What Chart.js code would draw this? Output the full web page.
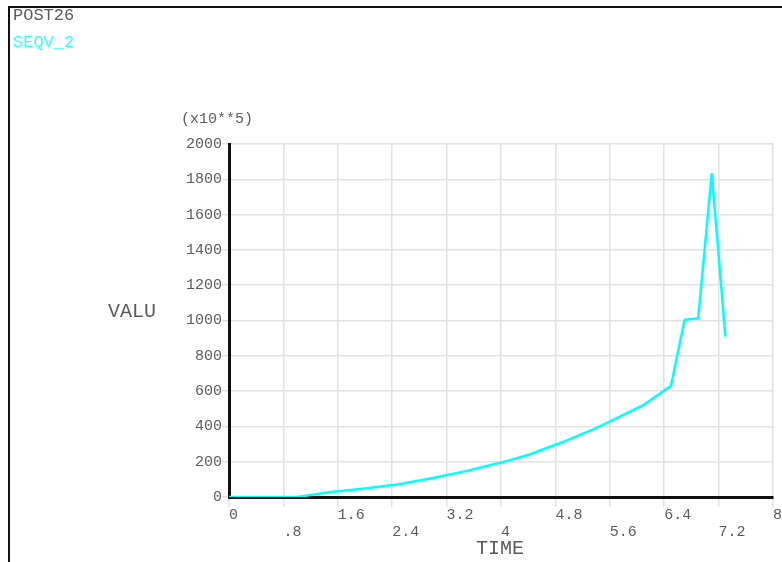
<!DOCTYPE html>
<html>
<head>
<meta charset="utf-8">
<script src="https://cdn.jsdelivr.net/npm/chart.js@4/dist/chart.umd.min.js"></script>
<style>
  html, body { margin: 0; padding: 0; background: #fff; }
  #wrap { width: 782px; height: 562px; position: relative; }
</style>
</head>
<body>
<div id="wrap"><canvas id="c" width="782" height="562"></canvas></div>
<script>
// SEQV_2 history (values in units of 10**5)
const timeValues = [0, 0.5, 1.0, 1.5, 2.0, 2.5, 3.0, 3.5, 4.0, 4.4, 4.9, 5.4, 5.8, 6.1, 6.5, 6.7, 6.9, 7.1, 7.3];
const seqvValues = [0, 0, 0, 28, 48, 72, 108, 148, 195, 238, 310, 390, 465, 522, 630, 1004, 1013, 1835, 909];
const xTickLabels = ['0', '.8', '1.6', '2.4', '3.2', '4', '4.8', '5.6', '6.4', '7.2', '8'];
const yTickLabels = ['0', '200', '400', '600', '800', '1000', '1200', '1400', '1600', '1800', '2000'];

const MONO = '"Liberation Mono", "DejaVu Sans Mono", monospace';
const TEXT_GREY = '#5c5c5c';

const frameAndText = {
  id: 'frameAndText',
  beforeDraw(chart) {
    const ctx = chart.ctx;
    ctx.save();
    ctx.fillStyle = '#fff';
    ctx.fillRect(0, 0, chart.width, chart.height);
    ctx.restore();
  },
  afterDraw(chart) {
    const ctx = chart.ctx;
    ctx.save();
    // window frame
    ctx.strokeStyle = '#111';
    ctx.lineWidth = 2;
    ctx.beginPath();
    ctx.moveTo(9, chart.height);
    ctx.lineTo(9, 7);
    ctx.lineTo(chart.width, 7);
    ctx.stroke();

    ctx.textBaseline = 'middle';
    ctx.textAlign = 'left';
    ctx.font = '17px ' + MONO;
    ctx.fillStyle = TEXT_GREY;
    ctx.fillText('POST26', 13, 15);
    ctx.fillStyle = '#33ffff';
    ctx.fillText('SEQV_2', 13, 42);

    ctx.fillStyle = TEXT_GREY;
    ctx.font = '15px ' + MONO;
    ctx.fillText('(x10**5)', 181, 119);

    ctx.font = '20px ' + MONO;
    ctx.fillText('VALU', 108, 312);
    ctx.textAlign = 'center';
    ctx.fillText('TIME', 500, 549);
    ctx.restore();
  }
};

new Chart(document.getElementById('c'), {
  type: 'line',
  data: {
    datasets: [{
      label: 'SEQV_2',
      data: timeValues.map((t, i) => ({ x: t, y: seqvValues[i] })),
      borderColor: '#00ffff',
      borderWidth: 2.5,
      pointRadius: 0,
      tension: 0,
      fill: false
    }]
  },
  options: {
    responsive: false,
    animation: false,
    devicePixelRatio: 1,
    layout: { padding: { left: 0, right: 9, top: 144, bottom: 0 } },
    plugins: { legend: { display: false }, tooltip: { enabled: false } },
    scales: {
      x: {
        type: 'linear',
        min: 0, max: 8,
        afterBuildTicks(scale) {
          scale.ticks = xTickLabels.map(s => ({ value: parseFloat(s) }));
        },
        afterFit(scale) { scale.height = 65; },
        grid: { color: '#e2e2e2', lineWidth: 1.5, tickLength: 10, drawTicks: true },
        border: { color: '#111', width: 3 },
        ticks: {
          autoSkip: false,
          maxRotation: 0,
          align: 'start',
          padding: 0,
          color: TEXT_GREY,
          font: { family: MONO, size: 15, lineHeight: 1.13 },
          callback(value, index) {
            const lbl = xTickLabels[index];
            return index % 2 === 0 ? [lbl, ''] : ['', lbl];
          }
        }
      },
      y: {
        type: 'linear',
        min: 0, max: 2000,
        afterBuildTicks(scale) {
          scale.ticks = yTickLabels.map(s => ({ value: parseFloat(s) }));
        },
        afterFit(scale) { scale.width = 229; },
        grid: { color: '#e2e2e2', lineWidth: 1.5, tickLength: 7 },
        border: { color: '#111', width: 3 },
        ticks: {
          autoSkip: false,
          padding: 0,
          color: TEXT_GREY,
          font: { family: MONO, size: 15 },
          callback(value, index) { return yTickLabels[index]; }
        }
      }
    }
  },
  plugins: [frameAndText]
});
</script>
</body>
</html>
